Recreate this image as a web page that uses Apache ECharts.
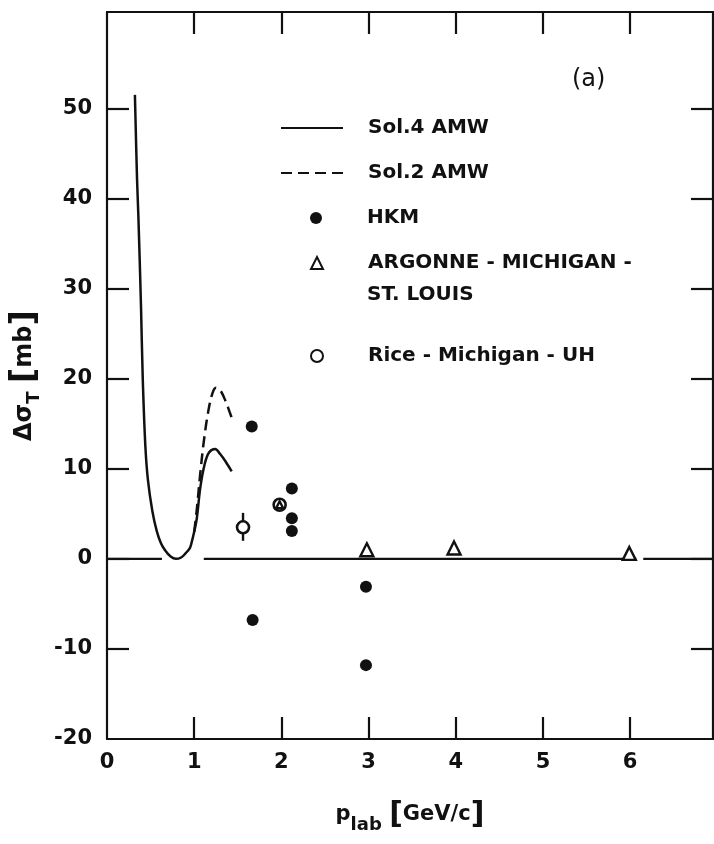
<!DOCTYPE html>
<html>
<head>
<meta charset="utf-8">
<script src="https://cdn.jsdelivr.net/npm/echarts@6/dist/echarts.min.js"></script>
<style>
  html, body { margin: 0; padding: 0; background: #fff; }
  #chart { width: 714px; height: 844px; }
</style>
</head>
<body>
<div id="chart"></div>
<script>
// ---- data ----
const xTickValues = [0, 1, 2, 3, 4, 5, 6];
const yTickValues = [-20, -10, 0, 10, 20, 30, 40, 50];

const sol4X = [0.32, 0.345, 0.36, 0.39, 0.41, 0.44, 0.47, 0.52, 0.57, 0.62, 0.67, 0.73, 0.79, 0.85, 0.9, 0.95, 0.97, 1.0, 1.03, 1.07, 1.12, 1.17, 1.24, 1.3, 1.36, 1.43];
const sol4Y = [51.5, 42, 38, 28, 20, 12.5, 8.7, 5.3, 3.1, 1.7, 0.9, 0.25, 0, 0.15, 0.6, 1.2, 1.8, 3.0, 4.5, 7.9, 10.5, 11.8, 12.2, 11.6, 10.8, 9.7];

const sol2X = [1.0, 1.03, 1.07, 1.11, 1.16, 1.21, 1.25, 1.3, 1.36, 1.41, 1.45];
const sol2Y = [3.0, 5.5, 9.5, 13, 16.3, 18.4, 19.0, 18.7, 17.5, 16.2, 15.1];

const hkmX = [1.66, 1.67, 2.12, 2.12, 2.12, 2.97, 2.97];
const hkmY = [14.7, -6.8, 7.8, 4.5, 3.1, -3.1, -11.8];

const amslX = [1.98, 2.98, 3.98, 5.99];
const amslY = [6.0, 1.0, 1.2, 0.6];

const riceX = [1.56, 1.98];
const riceY = [3.5, 6.0];
const riceLo = [2.0, null];
const riceHi = [5.1, null];

// zero reference line segments (x start / x end)
const zeroStart = [0, 1.11, 6.15];
const zeroEnd = [0.63, 6.07, 6.95];

const names = {
  sol4: 'Sol.4 AMW',
  sol2: 'Sol.2 AMW',
  hkm: 'HKM',
  amsl: 'ARGONNE - MICHIGAN - ST. LOUIS',
  rice: 'Rice - Michigan - UH'
};

// ---- build ----
const zip = (xs, ys) => xs.map((x, i) => [x, ys[i]]);
const zeroData = [];
zeroStart.forEach((s, i) => {
  if (i > 0) zeroData.push([s, '-']);
  zeroData.push([s, 0], [zeroEnd[i], 0]);
});
const errData = riceX.map((x, i) => [x, riceLo[i], riceHi[i]]).filter(d => d[1] != null);

const FONT = 'DejaVu Sans';
const INK = '#111';
const LEG_FONT = { fontFamily: FONT, fontSize: 20, fontWeight: 'bold', color: INK };

const chart = echarts.init(document.getElementById('chart'), null, { renderer: 'canvas' });

function lineLegend(name, top) {
  return {
    data: [name], left: 280, top: top, orient: 'horizontal', padding: 0,
    itemWidth: 62, itemHeight: 14, selectedMode: false,
    itemStyle: { opacity: 0 },
    textStyle: Object.assign({ padding: [0, 0, 0, 20] }, LEG_FONT)
  };
}
function markLegend(name, top, formatter) {
  const l = {
    data: [name], left: 310, top: top, orient: 'horizontal', padding: 0,
    itemWidth: 12, itemHeight: 12, selectedMode: false,
    textStyle: Object.assign({ padding: [0, 0, 0, 40] }, LEG_FONT)
  };
  if (formatter) l.formatter = formatter;
  return l;
}

const option = {
  backgroundColor: '#fff',
  animation: false,
  grid: { left: 107, top: 12, right: 1, bottom: 105, containLabel: false },
  xAxis: [
    {
      type: 'value', position: 'bottom', min: 0, max: 6.95,
      name: 'p{sub|lab} {br|[}GeV/c{br|]}', nameLocation: 'middle', nameGap: 57,
      nameTextStyle: {
        fontFamily: FONT, fontSize: 21, fontWeight: 'bold', color: INK,
        rich: {
          sub: { fontFamily: FONT, fontSize: 18, fontWeight: 'bold', color: INK, padding: [20, 0, 0, 0] },
          br: { fontFamily: FONT, fontSize: 30, color: INK }
        }
      },
      axisLine: { show: true, onZero: false, lineStyle: { color: INK, width: 2.2 } },
      axisTick: { show: true, inside: true, length: 22, customValues: [1, 2, 3, 4, 5, 6], lineStyle: { color: INK, width: 2.2 } },
      axisLabel: { customValues: xTickValues, margin: 13, fontFamily: FONT, fontSize: 21, fontWeight: 'bold', color: INK },
      splitLine: { show: false }
    },
    {
      type: 'value', position: 'top', min: 0, max: 6.95,
      axisLine: { show: true, onZero: false, lineStyle: { color: INK, width: 2.2 } },
      axisTick: { show: true, inside: true, length: 22, customValues: [1, 2, 3, 4, 5, 6], lineStyle: { color: INK, width: 2.2 } },
      axisLabel: { show: false },
      splitLine: { show: false }
    }
  ],
  yAxis: [
    {
      type: 'value', position: 'left', min: -20, max: 60.7,
      name: 'Δσ{sub|T} {br|[}mb{br|]}', nameLocation: 'middle', nameGap: 62, nameRotate: 90,
      nameTextStyle: {
        fontFamily: FONT, fontSize: 24, fontWeight: 'bold', color: INK,
        rich: {
          sub: { fontFamily: FONT, fontSize: 18, fontWeight: 'bold', color: INK, padding: [18, 0, 0, 0] },
          br: { fontFamily: FONT, fontSize: 34, color: INK }
        }
      },
      axisLine: { show: true, onZero: false, lineStyle: { color: INK, width: 2.2 } },
      axisTick: { show: true, inside: true, length: 22, customValues: [-10, 0, 10, 20, 30, 40, 50], lineStyle: { color: INK, width: 2.2 } },
      axisLabel: { customValues: yTickValues, margin: 15, fontFamily: FONT, fontSize: 21, fontWeight: 'bold', color: INK },
      splitLine: { show: false }
    },
    {
      type: 'value', position: 'right', min: -20, max: 60.7,
      axisLine: { show: true, onZero: false, lineStyle: { color: INK, width: 2.2 } },
      axisTick: { show: true, inside: true, length: 22, customValues: [-10, 0, 10, 20, 30, 40, 50], lineStyle: { color: INK, width: 2.2 } },
      axisLabel: { show: false },
      splitLine: { show: false }
    }
  ],
  legend: [
    lineLegend(names.sol4, 118),
    lineLegend(names.sol2, 163),
    markLegend(names.hkm, 208),
    markLegend(names.amsl, 253, () => 'ARGONNE - MICHIGAN -'),
    markLegend(names.rice, 346)
  ],
  graphic: [
    { type: 'text', left: 367, top: 285, style: { text: 'ST. LOUIS', fontFamily: FONT, fontSize: 20, fontWeight: 'bold', fill: INK } },
    { type: 'text', left: 572, top: 68, style: { text: '(a)', fontFamily: FONT, fontSize: 24, fill: INK } }
  ],
  series: [
    {
      name: 'zero', type: 'line', data: zeroData, symbol: 'none', silent: true,
      lineStyle: { color: INK, width: 2.2 }, connectNulls: false
    },
    {
      name: names.sol4, type: 'line', data: zip(sol4X, sol4Y), symbol: 'none', smooth: 0.35,
      lineStyle: { color: INK, width: 2.5 }, itemStyle: { color: INK }
    },
    {
      name: names.sol2, type: 'line', data: zip(sol2X, sol2Y), symbol: 'none', smooth: 0.35,
      lineStyle: { color: INK, width: 2.5, type: [11, 6] }, itemStyle: { color: INK }
    },
    {
      name: names.hkm, type: 'scatter', data: zip(hkmX, hkmY), symbol: 'circle', symbolSize: 12,
      itemStyle: { color: INK, opacity: 1 }
    },
    {
      name: 'riceErr', type: 'custom', data: errData, silent: true,
      renderItem: (params, api) => {
        const p1 = api.coord([api.value(0), api.value(1)]);
        const p2 = api.coord([api.value(0), api.value(2)]);
        return { type: 'line', shape: { x1: p1[0], y1: p1[1], x2: p2[0], y2: p2[1] }, style: { stroke: INK, lineWidth: 2.4 } };
      },
      z: 1
    },
    {
      name: names.rice, type: 'scatter', data: zip(riceX, riceY), symbol: 'circle', symbolSize: 12,
      itemStyle: { color: '#fff', borderColor: INK, borderWidth: 2.6, opacity: 1 }, z: 3
    },
    {
      name: names.amsl, type: 'scatter', data: zip(amslX, amslY), symbol: 'triangle',
      symbolSize: (v, p) => (p.dataIndex === 0 ? 7 : 13),
      itemStyle: { color: '#fff', borderColor: INK, borderWidth: 2.4, opacity: 1 }, z: 4
    }
  ]
};

chart.setOption(option);
</script>
</body>
</html>
